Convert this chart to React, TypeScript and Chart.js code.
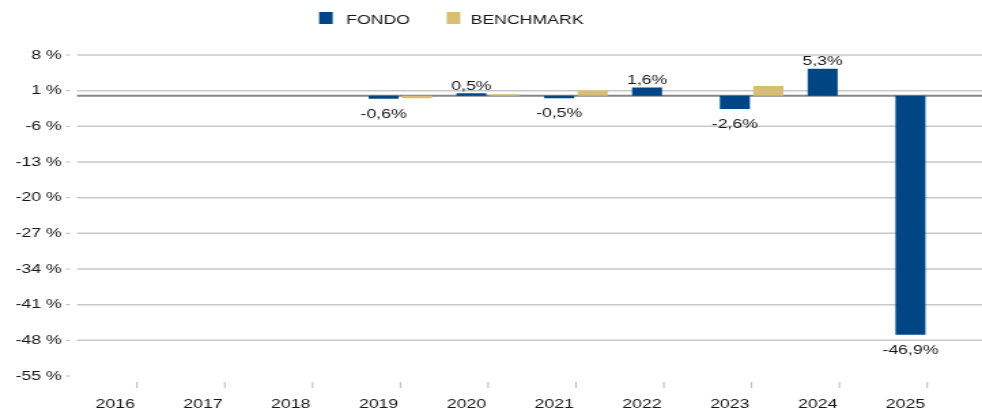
import React, { useEffect, useRef } from "react";
import { Chart, registerables } from "chart.js";

Chart.register(...registerables);

// ---- data ----
const years = ["2016", "2017", "2018", "2019", "2020", "2021", "2022", "2023", "2024", "2025"];
const fondo: (number | null)[] = [null, null, null, -0.6, 0.5, -0.5, 1.6, -2.6, 5.3, -46.9];
const benchmark: (number | null)[] = [null, null, null, -0.5, 0.3, 1.0, null, 1.9, null, null];
const seriesNames = ["FONDO", "BENCHMARK"];
const yMin = -55;
const yMax = 8;
const yStep = 7;

// ---- style ----
const COLORS = ["#004684", "#d7be73"];
const FONT = "'Liberation Sans', Arial, Helvetica, sans-serif";
const TEXT = "#161616";
const CANVAS_W = 722; // rendered width, stretched to 982 on the page
const CANVAS_H = 412;

const fmt = (v: number) => v.toFixed(1).replace(".", ",") + "%";

const decorPlugin = {
  id: "decor",
  beforeDatasetsDraw(chart: any) {
    const { ctx, chartArea, scales } = chart;
    const y = scales.y;
    const x = scales.x;
    const gridLeft = chartArea.left - 11.8;
    ctx.save();
    y.ticks.forEach((t: any) => {
      const py = y.getPixelForValue(t.value);
      if (t.value !== yMin) {
        ctx.strokeStyle = "#c8c8c8";
        ctx.lineWidth = 1.5;
        ctx.beginPath();
        ctx.moveTo(gridLeft, py);
        ctx.lineTo(chart.width, py);
        ctx.stroke();
      }
      ctx.strokeStyle = "#b8b8b8";
      ctx.lineWidth = 1;
      ctx.beginPath();
      ctx.moveTo(chartArea.left - 19.9, py);
      ctx.lineTo(chartArea.left - 16.9, py);
      ctx.stroke();
    });
    const z = y.getPixelForValue(0);
    ctx.strokeStyle = "#858585";
    ctx.lineWidth = 2;
    ctx.beginPath();
    ctx.moveTo(gridLeft, z);
    ctx.lineTo(chart.width, z);
    ctx.stroke();
    ctx.strokeStyle = "#b8b8b8";
    ctx.lineWidth = 1;
    years.forEach((_, i) => {
      const px = x.getPixelForValue(i);
      ctx.beginPath();
      ctx.moveTo(px, chartArea.bottom + 6);
      ctx.lineTo(px, chartArea.bottom + 12);
      ctx.stroke();
    });
    ctx.restore();
  },
  afterDatasetsDraw(chart: any) {
    const { ctx } = chart;
    const meta = chart.getDatasetMeta(0);
    ctx.save();
    ctx.font = `13px ${FONT}`;
    ctx.fillStyle = TEXT;
    ctx.textAlign = "center";
    ctx.textBaseline = "alphabetic";
    meta.data.forEach((el: any, i: number) => {
      const v = fondo[i];
      if (v === null || v === undefined) return;
      const ty = v >= 0 ? el.y - 3.5 : el.y + 19;
      ctx.fillText(fmt(v), el.x, ty);
    });
    ctx.restore();
  },
  afterDraw(chart: any) {
    const { ctx } = chart;
    ctx.save();
    ctx.font = `13px ${FONT}`;
    ctx.textBaseline = "alphabetic";
    ctx.textAlign = "left";
    const items = [
      { box: 234.6, text: 254.5 },
      { box: 328.4, text: 346.0 },
    ];
    items.forEach((it, i) => {
      ctx.fillStyle = COLORS[i];
      ctx.fillRect(it.box, 12, 10, 12);
      ctx.fillStyle = TEXT;
      ctx.fillText(chart.data.datasets[i].label, it.text, 24);
    });
    ctx.restore();
  },
};

export default function App() {
  const ref = useRef<HTMLCanvasElement | null>(null);

  useEffect(() => {
    document.body.style.margin = "0";
    document.body.style.overflow = "hidden";
    if (!ref.current) return;
    const chart = new Chart(ref.current, {
      type: "bar",
      data: {
        labels: years,
        datasets: [
          {
            label: seriesNames[0],
            data: fondo,
            backgroundColor: COLORS[0],
            borderWidth: 0,
            categoryPercentage: 0.763,
            barPercentage: 0.896,
          },
          {
            label: seriesNames[1],
            data: benchmark,
            backgroundColor: COLORS[1],
            borderWidth: 0,
            categoryPercentage: 0.763,
            barPercentage: 0.896,
          },
        ],
      },
      options: {
        responsive: false,
        animation: false,
        devicePixelRatio: 1,
        layout: { padding: { top: 55, right: 8, left: 0, bottom: 0 } },
        plugins: {
          legend: { display: false },
          tooltip: { enabled: false },
        },
        scales: {
          x: {
            type: "category",
            offset: true,
            grid: { display: false, drawTicks: false },
            border: { display: false },
            ticks: {
              font: { size: 13, family: FONT },
              color: TEXT,
              padding: 21,
              labelOffset: -16,
              maxRotation: 0,
              autoSkip: false,
            },
            afterFit: (s: any) => {
              s.height = 36;
            },
          },
          y: {
            type: "linear",
            min: yMin,
            max: yMax,
            ticks: {
              stepSize: yStep,
              font: { size: 13, family: FONT },
              color: TEXT,
              padding: 23,
              callback: (v: any) => `${v} %`,
            },
            grid: { display: false, drawTicks: false },
            border: { display: false },
            afterFit: (s: any) => {
              s.width = 68.4;
            },
          },
        },
      },
      plugins: [decorPlugin],
    });
    return () => chart.destroy();
  }, []);

  return (
    <div style={{ width: 982, height: 412 }}>
      <canvas
        ref={ref}
        width={CANVAS_W}
        height={CANVAS_H}
        style={{ width: "982px", height: "412px", display: "block" }}
      />
    </div>
  );
}
